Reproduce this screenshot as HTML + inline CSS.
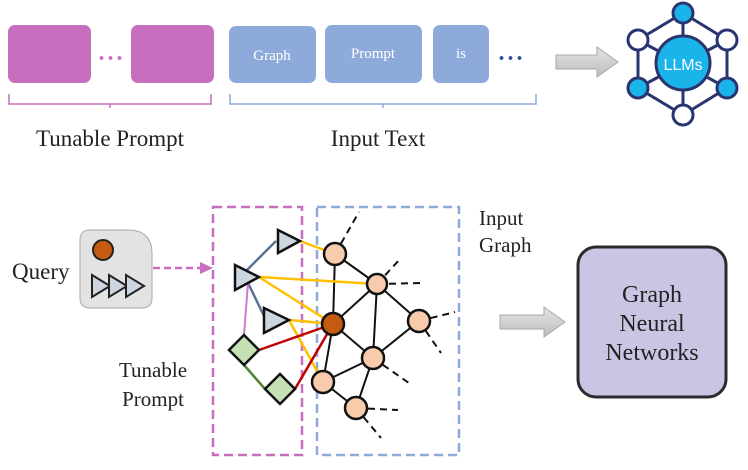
<!DOCTYPE html>
<html><head><style>body{margin:0;background:#fff}</style></head><body>
<svg width="748" height="465" xmlns="http://www.w3.org/2000/svg" font-family="Liberation Serif, serif">
<defs>
<linearGradient id="g" x1="0" y1="0" x2="0" y2="1"><stop offset="0" stop-color="#e4e4e4"/><stop offset="1" stop-color="#bdbdbd"/></linearGradient>
</defs>
<rect x="8" y="25" width="83" height="58" rx="7" fill="#c86ebf"/>
<rect x="131" y="25" width="83" height="58" rx="7" fill="#c86ebf"/>
<text x="111" y="66" font-size="24" fill="#c86ebf" text-anchor="middle" font-weight="bold" letter-spacing="1">···</text>
<rect x="229" y="26" width="87" height="57" rx="7" fill="#8eaadb"/>
<rect x="325" y="25" width="97" height="58" rx="7" fill="#8eaadb"/>
<rect x="433" y="25" width="56" height="58" rx="7" fill="#8eaadb"/>
<text x="272" y="60" font-size="15" fill="#fff" text-anchor="middle">Graph</text>
<text x="373" y="58" font-size="15" fill="#fff" text-anchor="middle">Prompt</text>
<text x="461" y="58" font-size="15" fill="#fff" text-anchor="middle">is</text>
<text x="511" y="66" font-size="24" fill="#2f4f8f" text-anchor="middle" font-weight="bold" letter-spacing="1">···</text>
<path d="M9 94 V104 H211 V94" fill="none" stroke="#c86ebf" stroke-width="1.5"/>
<path d="M110 104 v4" stroke="#c86ebf" stroke-width="1.5"/>
<path d="M230 94 V104 H536 V94" fill="none" stroke="#8eaadb" stroke-width="1.5"/>
<path d="M383 104 v4" stroke="#8eaadb" stroke-width="1.5"/>
<text x="110" y="146" font-size="23" text-anchor="middle" fill="#222">Tunable Prompt</text>
<text x="378" y="146" font-size="23" text-anchor="middle" fill="#222">Input Text</text>
<path d="M556 55 H597 V47 L618 62 L597 77 V69 H556 Z" fill="url(#g)" stroke="#aaa"/>
<path d="M500 315 H544 V307 L565 322 L544 337 V329 H500 Z" fill="url(#g)" stroke="#aaa"/>
<g stroke="#2a3570" stroke-width="3" fill="none">
<path d="M683 13 L727 40 L727 88 L683 115 L638 88 L638 40 Z"/>
<path d="M683 13 V115 M638 40 L727 88 M727 40 L638 88"/>
</g>
<circle cx="683" cy="63" r="27" fill="#1ab4ea" stroke="#2a3570" stroke-width="3"/>
<text x="683" y="70" font-size="16" font-family="Liberation Sans, sans-serif" fill="#fff" text-anchor="middle">LLMs</text>
<g stroke="#2a3570" stroke-width="3">
<circle cx="683" cy="13" r="10" fill="#1ab4ea"/>
<circle cx="638" cy="40" r="10" fill="#fff"/>
<circle cx="727" cy="40" r="10" fill="#fff"/>
<circle cx="638" cy="88" r="10" fill="#1ab4ea"/>
<circle cx="727" cy="88" r="10" fill="#1ab4ea"/>
<circle cx="683" cy="115" r="10" fill="#fff"/>
</g>
<text x="12" y="279" font-size="23" fill="#222">Query</text>
<path d="M80 240 Q80 230 90 230 H128 Q152 230 152 254 V298 Q152 308 142 308 H90 Q80 308 80 298 Z" fill="#e3e3e3" stroke="#aaa"/>
<circle cx="103" cy="250" r="10" fill="#c55a11" stroke="#222" stroke-width="2"/>
<g fill="#cdd5df" stroke="#222" stroke-width="2">
<path d="M92 275 L110 286 L92 297 Z"/><path d="M109 275 L127 286 L109 297 Z"/><path d="M126 275 L144 286 L126 297 Z"/>
</g>
<path d="M153 268 H202" stroke="#c86ebf" stroke-width="2.5" stroke-dasharray="7,4"/>
<path d="M200 262 L213 268 L200 274 Z" fill="#c86ebf"/>
<rect x="213" y="207" width="89" height="248" fill="none" stroke="#c86ebf" stroke-width="2.5" stroke-dasharray="9,5"/>
<rect x="317" y="207" width="142" height="248" fill="none" stroke="#8eaadb" stroke-width="2.5" stroke-dasharray="9,5"/>
<text x="479" y="225" font-size="21" fill="#222">Input</text>
<text x="479" y="252" font-size="21" fill="#222">Graph</text>
<text x="153" y="377" font-size="21" fill="#222" text-anchor="middle">Tunable</text>
<text x="153" y="406" font-size="21" fill="#222" text-anchor="middle">Prompt</text>
<g stroke="#111" stroke-width="2" stroke-dasharray="7,5">
<path d="M335 254 L359 212 M377 284 L401 258 M377 284 L422 283 M419 321 L455 312 M419 321 L441 353 M373 358 L409 383 M356 408 L398 410 M356 408 L381 438"/>
</g>
<g stroke="#111" stroke-width="2">
<path d="M335 254 L333 324 M335 254 L377 284 M377 284 L333 324 M377 284 L419 321 M377 284 L373 358 M333 324 L373 358 M419 321 L373 358 M333 324 L323 382 M373 358 L356 408 M323 382 L373 358 M323 382 L356 408"/>
</g>
<g stroke="#ffc000" stroke-width="2.5">
<path d="M300 241 L335 254 M259 277 L377 284 M259 277 L333 324 M289 320 L333 324 M289 320 L323 382"/>
</g>
<g stroke="#c00000" stroke-width="2.5"><path d="M259 350 L333 324 M295 389 L333 324"/></g>
<g stroke="#5a7394" stroke-width="2.5"><path d="M247 270 L276 241 M248 283 L265 318"/></g>
<path d="M248 283 L244 335" stroke="#d07acb" stroke-width="2"/>
<path d="M244 365 L265 389" stroke="#548235" stroke-width="2.5"/>
<g fill="#cdd5df" stroke="#111" stroke-width="2.5">
<path d="M278 230 L300 241 L278 253 Z"/><path d="M235 265 L259 277 L235 290 Z"/><path d="M264 308 L289 320 L264 333 Z"/>
</g>
<g fill="#c5e0b4" stroke="#111" stroke-width="2.5">
<path d="M244 335 L259 350 L244 365 L229 350 Z"/><path d="M280 374 L295 389 L280 404 L265 389 Z"/>
</g>
<g fill="#f8cbad" stroke="#111" stroke-width="2.5">
<circle cx="335" cy="254" r="11"/><circle cx="377" cy="284" r="10"/><circle cx="419" cy="321" r="11"/><circle cx="373" cy="358" r="11"/><circle cx="323" cy="382" r="11"/><circle cx="356" cy="408" r="11"/>
</g>
<circle cx="333" cy="324" r="11" fill="#c55a11" stroke="#111" stroke-width="2.5"/>
<rect x="578" y="247" width="148" height="150" rx="18" fill="#c9c6e3" stroke="#2b2b2b" stroke-width="3"/>
<text x="652" y="302" font-size="24" text-anchor="middle" fill="#222">Graph</text>
<text x="652" y="331" font-size="24" text-anchor="middle" fill="#222">Neural</text>
<text x="652" y="360" font-size="24" text-anchor="middle" fill="#222">Networks</text>
</svg>
</body></html>
